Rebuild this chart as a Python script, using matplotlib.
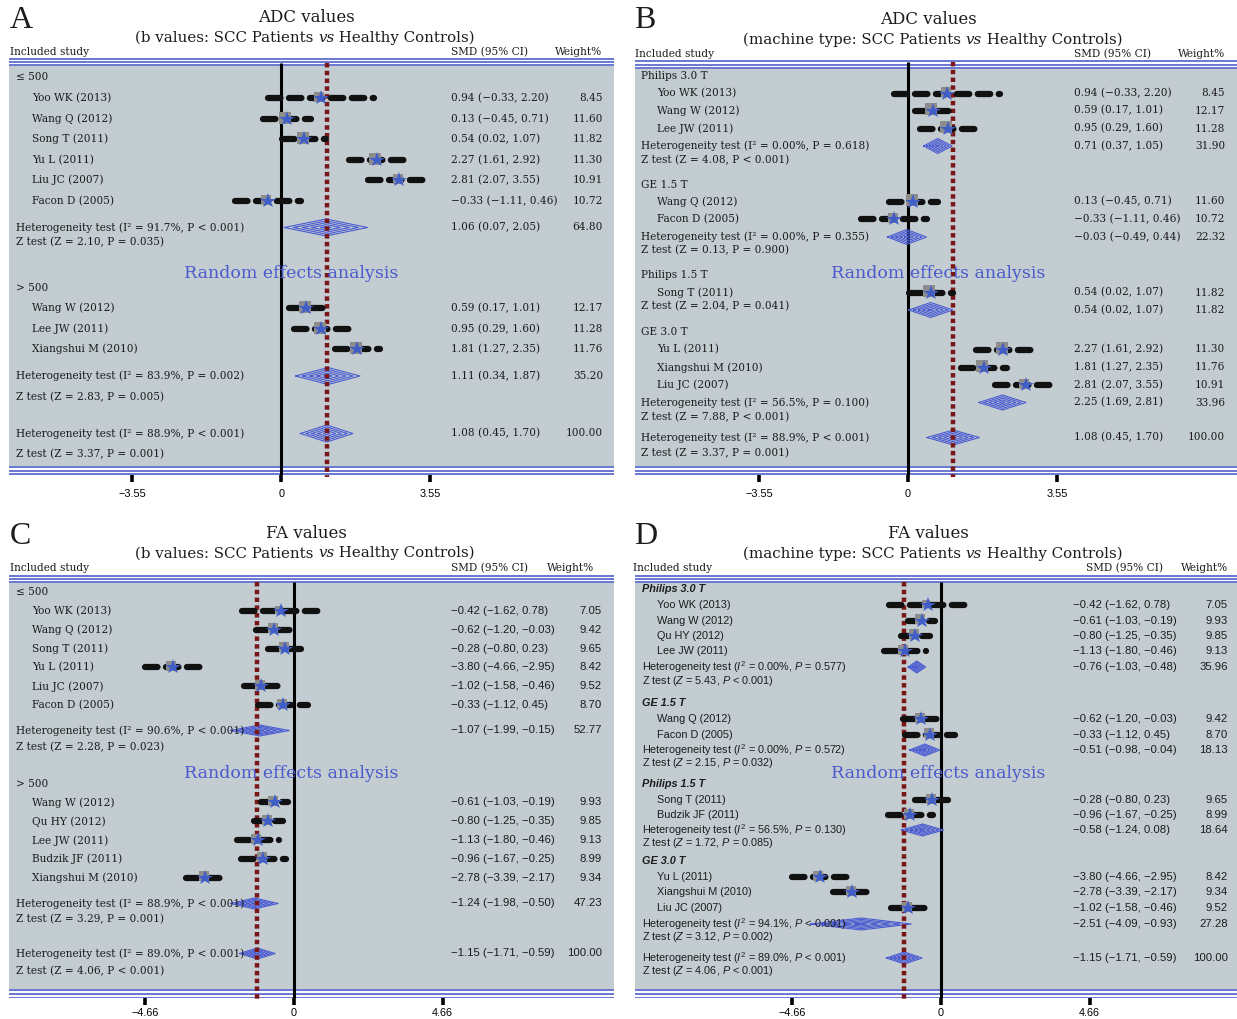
"""
Four-panel forest plot: ADC and FA SMDs, SCC patients vs healthy controls,
split by b value (A, C) and by machine type (B, D).
"""
import matplotlib

matplotlib.use("Agg")
import matplotlib.pyplot as plt
import matplotlib.transforms as mtransforms

W, H = 1237, 1019

# ---------------------------------------------------------------- study data
ADC_NAMES = ["Yoo WK (2013)", "Wang Q (2012)", "Song T (2011)", "Yu L (2011)",
             "Liu JC (2007)", "Facon D (2005)", "Wang W (2012)", "Lee JW (2011)",
             "Xiangshui M (2010)"]
ADC_SMD = [0.94, 0.13, 0.54, 2.27, 2.81, -0.33, 0.59, 0.95, 1.81]
ADC_LO = [-0.33, -0.45, 0.02, 1.61, 2.07, -1.11, 0.17, 0.29, 1.27]
ADC_HI = [2.20, 0.71, 1.07, 2.92, 3.55, 0.46, 1.01, 1.60, 2.35]
ADC_WT = [8.45, 11.60, 11.82, 11.30, 10.91, 10.72, 12.17, 11.28, 11.76]

FA_NAMES = ["Yoo WK (2013)", "Wang Q (2012)", "Song T (2011)", "Yu L (2011)",
            "Liu JC (2007)", "Facon D (2005)", "Wang W (2012)", "Qu HY (2012)",
            "Lee JW (2011)", "Budzik JF (2011)", "Xiangshui M (2010)"]
FA_SMD = [-0.42, -0.62, -0.28, -3.80, -1.02, -0.33, -0.61, -0.80, -1.13, -0.96, -2.78]
FA_LO = [-1.62, -1.20, -0.80, -4.66, -1.58, -1.12, -1.03, -1.25, -1.80, -1.67, -3.39]
FA_HI = [0.78, -0.03, 0.23, -2.95, -0.46, 0.45, -0.19, -0.35, -0.46, -0.25, -2.17]
FA_WT = [7.05, 9.42, 9.65, 8.42, 9.52, 8.70, 9.93, 9.85, 9.13, 8.99, 9.34]

# pooled: (SMD, lo, hi, weight%)
ADC_ALL = (1.08, 0.45, 1.70, 100.00)
ADC_ALL_I2 = ("88.9%", "< 0.001")
ADC_ALL_Z = ("3.37", "= 0.001")
FA_ALL = (-1.15, -1.71, -0.59, 100.00)
FA_ALL_I2 = ("89.0%", "< 0.001")
FA_ALL_Z = ("4.06", "< 0.001")

# ---------------------------------------------------------------- subgroups
A_GROUPS = ["\u2264 500", "> 500"]
A_MEMBERS = [["Yoo WK (2013)", "Wang Q (2012)", "Song T (2011)", "Yu L (2011)",
              "Liu JC (2007)", "Facon D (2005)"],
             ["Wang W (2012)", "Lee JW (2011)", "Xiangshui M (2010)"]]
A_POOLED = [(1.06, 0.07, 2.05, 64.80), (1.11, 0.34, 1.87, 35.20)]
A_I2 = [("91.7%", "< 0.001"), ("83.9%", "= 0.002")]
A_Z = [("2.10", "= 0.035"), ("2.83", "= 0.005")]

B_GROUPS = ["Philips 3.0 T", "GE 1.5 T", "Philips 1.5 T", "GE 3.0 T"]
B_MEMBERS = [["Yoo WK (2013)", "Wang W (2012)", "Lee JW (2011)"],
             ["Wang Q (2012)", "Facon D (2005)"],
             ["Song T (2011)"],
             ["Yu L (2011)", "Xiangshui M (2010)", "Liu JC (2007)"]]
B_POOLED = [(0.71, 0.37, 1.05, 31.90), (-0.03, -0.49, 0.44, 22.32),
            (0.54, 0.02, 1.07, 11.82), (2.25, 1.69, 2.81, 33.96)]
B_I2 = [("0.00%", "= 0.618"), ("0.00%", "= 0.355"), None, ("56.5%", "= 0.100")]
B_Z = [("4.08", "< 0.001"), ("0.13", "= 0.900"), ("2.04", "= 0.041"), ("7.88", "< 0.001")]

C_GROUPS = ["\u2264 500", "> 500"]
C_MEMBERS = [["Yoo WK (2013)", "Wang Q (2012)", "Song T (2011)", "Yu L (2011)",
              "Liu JC (2007)", "Facon D (2005)"],
             ["Wang W (2012)", "Qu HY (2012)", "Lee JW (2011)", "Budzik JF (2011)",
              "Xiangshui M (2010)"]]
C_POOLED = [(-1.07, -1.99, -0.15, 52.77), (-1.24, -1.98, -0.50, 47.23)]
C_I2 = [("90.6%", "< 0.001"), ("88.9%", "< 0.001")]
C_Z = [("2.28", "= 0.023"), ("3.29", "= 0.001")]

D_GROUPS = ["Philips 3.0 T", "GE 1.5 T", "Philips 1.5 T", "GE 3.0 T"]
D_MEMBERS = [["Yoo WK (2013)", "Wang W (2012)", "Qu HY (2012)", "Lee JW (2011)"],
             ["Wang Q (2012)", "Facon D (2005)"],
             ["Song T (2011)", "Budzik JF (2011)"],
             ["Yu L (2011)", "Xiangshui M (2010)", "Liu JC (2007)"]]
D_POOLED = [(-0.76, -1.03, -0.48, 35.96), (-0.51, -0.98, -0.04, 18.13),
            (-0.58, -1.24, 0.08, 18.64), (-2.51, -4.09, -0.93, 27.28)]
D_I2 = [("0.00%", "= 0.577"), ("0.00%", "= 0.572"), ("56.5%", "= 0.130"), ("94.1%", "< 0.001")]
D_Z = [("5.43", "< 0.001"), ("2.15", "= 0.032"), ("1.72", "= 0.085"), ("3.12", "= 0.002")]

# ---------------------------------------------------------------- style
GREY = "#c3ccd1"
BLUE = "#4152c6"
RED = "#7a1616"
STAR = "#3f5ec8"
BOXC = "#8c8c8c"
DIAM = "#4a5bd2"
TXT = "#1c1c1c"
SERIF = "DejaVu Serif"
SANS = "Liberation Sans"

plt.rcParams["mathtext.fontset"] = "custom"
plt.rcParams["mathtext.rm"] = "Liberation Sans"
plt.rcParams["mathtext.it"] = "Liberation Sans:italic"

# pixel layout of each panel (figure pixel rows / columns)
LAYOUT = {
    "A": dict(box=(9, 614), top=0, axis=475, zero=281.5, ppu=149 / 3.55,
              ticks=[-3.55, 0, 3.55], lines_top=(58.5, 61.5, 64.5),
              lines_bot=(467, 470.7, 474.3), grey=(65.5, 466), vtop=63, red_end=477,
              tick_pad=5, letter=(10, 21), title=(306, 18), sub=(135, 38), head_y=52,
              head_x=(10, 451, 602), cols=(16, 32, 451, 603), random=(291, 273), dh=17,
              rows=[(77, [98, 119, 139, 160, 180, 201], 227.5, 227.5, 242),
                    (288, [308, 329, 349], 376, 376, 397)],
              overall=(433.5, 454)),
    "B": dict(box=(635, 1237), top=0, axis=475, zero=908, ppu=149 / 3.55,
              ticks=[-3.55, 0, 3.55], lines_top=(61, 64.5, 68),
              lines_bot=(467, 470.7, 474.3), grey=(69, 466), vtop=62, red_end=477,
              tick_pad=5, letter=(634, 21), title=(928, 20), sub=(743, 40), head_y=54,
              head_x=(635, 1074, 1225), cols=(641, 657, 1074, 1225), random=(938, 273), dh=15,
              rows=[(76, [93.5, 110.5, 128.5], 146, 146, 160),
                    (184.5, [201.5, 219], 237, 237, 250.5),
                    (275, [292.5], 310, None, 306.5),
                    (332, [349.5, 367.5, 385], 402.5, 402.5, 417)],
              overall=(437.5, 453.5)),
    "C": dict(box=(9, 614), top=510, axis=998, zero=294, ppu=148.7 / 4.66,
              ticks=[-4.66, 0, 4.66], lines_top=(575.7, 579, 582.4),
              lines_bot=(990, 994, 998), grey=(583.5, 989), vtop=582, red_end=999,
              tick_pad=2, letter=(10, 537), title=(306, 533.5), sub=(135, 553.5), head_y=568,
              head_x=(10, 451, 594), cols=(16, 32, 451, 602), random=(291, 774), dh=11,
              rows=[(592, [611.5, 630, 649, 667.5, 686.5, 705.5], 730.5, 730.5, 747.5),
                    (784, [802.5, 821.5, 840.5, 859, 878], 903.5, 903.5, 919.5)],
              overall=(953.5, 971)),
    "D": dict(box=(635, 1237), top=510, axis=998, zero=941, ppu=148.7 / 4.66,
              ticks=[-4.66, 0, 4.66], lines_top=(575.7, 579, 582.4),
              lines_bot=(990, 994, 998), grey=(583.5, 989), vtop=582, red_end=999,
              tick_pad=2, letter=(634, 537), title=(928, 533.5), sub=(743, 553.5), head_y=568,
              head_x=(633, 1086, 1228), cols=(642, 657, 1073, 1228), random=(938, 774), dh=12,
              rows=[(589.5, [605.5, 621, 636, 651.5], 667, 667, 681.5),
                    (703.5, [719.5, 735], 750, 750, 763.5),
                    (784.5, [800.5, 815.5], 830, 830, 843),
                    (861.5, [877.5, 892.5, 908.5], 924, 924, 937)],
              overall=(958, 971.5)),
}

PANELS = {
    "A": dict(title="ADC values", sub=("(b values: SCC Patients ", " Healthy Controls)"),
              names=ADC_NAMES, smd=ADC_SMD, lo=ADC_LO, hi=ADC_HI, wt=ADC_WT,
              groups=A_GROUPS, members=A_MEMBERS, pooled=A_POOLED, i2=A_I2, z=A_Z,
              overall=ADC_ALL, overall_i2=ADC_ALL_I2, overall_z=ADC_ALL_Z,
              label_font=SERIF, num_font=SERIF, italic=False),
    "B": dict(title="ADC values", sub=("(machine type: SCC Patients ", " Healthy Controls)"),
              names=ADC_NAMES, smd=ADC_SMD, lo=ADC_LO, hi=ADC_HI, wt=ADC_WT,
              groups=B_GROUPS, members=B_MEMBERS, pooled=B_POOLED, i2=B_I2, z=B_Z,
              overall=ADC_ALL, overall_i2=ADC_ALL_I2, overall_z=ADC_ALL_Z,
              label_font=SERIF, num_font=SERIF, italic=False),
    "C": dict(title="FA values", sub=("(b values: SCC Patients ", " Healthy Controls)"),
              names=FA_NAMES, smd=FA_SMD, lo=FA_LO, hi=FA_HI, wt=FA_WT,
              groups=C_GROUPS, members=C_MEMBERS, pooled=C_POOLED, i2=C_I2, z=C_Z,
              overall=FA_ALL, overall_i2=FA_ALL_I2, overall_z=FA_ALL_Z,
              label_font=SERIF, num_font=SANS, italic=False),
    "D": dict(title="FA values", sub=("(machine type: SCC Patients ", " Healthy Controls)"),
              names=FA_NAMES, smd=FA_SMD, lo=FA_LO, hi=FA_HI, wt=FA_WT,
              groups=D_GROUPS, members=D_MEMBERS, pooled=D_POOLED, i2=D_I2, z=D_Z,
              overall=FA_ALL, overall_i2=FA_ALL_I2, overall_z=FA_ALL_Z,
              label_font=SANS, num_font=SANS, italic=True),
}


def fmt(v):
    return f"{v:.2f}".replace("-", "\u2212")


def ci_text(p):
    return f"{fmt(p[0])} ({fmt(p[1])}, {fmt(p[2])})"


def het_text(h, italic):
    if italic:
        return f"Heterogeneity test ($I^2$ = {h[0]}, $P$ {h[1]})"
    return f"Heterogeneity test (I\u00b2 = {h[0]}, P {h[1]})"


def z_text(z, italic):
    if italic:
        return f"Z test ($Z$ = {z[0]}, $P$ {z[1]})"
    return f"Z test (Z = {z[0]}, P {z[1]})"


fig = plt.figure(figsize=(W / 100, H / 100), dpi=100)


def diamond(ax, p, y, h):
    est, lo, hi = p[0], p[1], p[2]
    for k in (1.0, 0.78, 0.56, 0.34, 0.12):
        xs = [est + k * (lo - est), est, est + k * (hi - est), est, est + k * (lo - est)]
        ys = [y, y - k * h / 2, y, y + k * h / 2, y]
        ax.plot(xs, ys, color=DIAM, lw=0.8, zorder=3, clip_on=False)


def draw_panel(key):
    lay, sp = LAYOUT[key], PANELS[key]
    bl, br = lay["box"]
    zero, ppu = lay["zero"], lay["ppu"]
    top, bot = lay["top"], lay["axis"]
    ax = fig.add_axes([bl / W, 1 - bot / H, (br - bl) / W, (bot - top) / H])
    ax.set_xlim((bl - zero) / ppu, (br - zero) / ppu)
    ax.set_ylim(bot, top)
    ax.patch.set_alpha(0)
    for s in ax.spines.values():
        s.set_visible(False)
    ax.set_yticks([])
    ax.set_xticks(lay["ticks"], labels=["0" if t == 0 else fmt(t) for t in lay["ticks"]])
    ax.tick_params(axis="x", direction="out", length=5, width=2.6, pad=lay["tick_pad"],
                   labelsize=7.8, colors="black")
    for lab in ax.get_xticklabels():
        lab.set_family(SANS)

    def px(x):
        return (x - zero) / ppu

    # frame: grey band + triple blue rules
    ax.axhspan(lay["grey"][0], lay["grey"][1], color=GREY, lw=0, zorder=0)
    for y in lay["lines_top"] + lay["lines_bot"]:
        ax.axhline(y, color=BLUE, lw=1.1, zorder=1)

    # reference lines: null effect and overall pooled estimate
    ax.plot([0, 0], [lay["vtop"], bot], color="black", lw=2.2,
            solid_capstyle="butt", zorder=2)
    ov = sp["overall"][0]
    ax.plot([ov, ov], [lay["vtop"], lay["red_end"]], color=RED, lw=3.2,
            dashes=(1.0, 0.75), dash_capstyle="butt", zorder=4, clip_on=False)

    # titles
    lx, ly = lay["letter"]
    ax.text(px(lx), ly, key, fontsize=23, family="Liberation Serif", ha="left",
            va="center", color=TXT)
    tx, ty = lay["title"]
    ax.text(px(tx), ty, sp["title"], fontsize=12, family=SERIF, ha="center",
            va="center", color=TXT)
    sx, sy = lay["sub"]
    t1 = ax.text(px(sx), sy, sp["sub"][0], fontsize=10.8, family=SERIF, ha="left",
                 va="center", color=TXT)
    t2 = ax.annotate("vs", xy=(1, 0), xycoords=t1, va="bottom", ha="left",
                     fontsize=10.8, family=SERIF, style="italic", color=TXT)
    ax.annotate(sp["sub"][1], xy=(1, 0), xycoords=t2, va="bottom", ha="left",
                fontsize=10.8, family=SERIF, color=TXT)
    hx = lay["head_x"]
    hy = lay["head_y"]
    ax.text(px(hx[0]), hy, "Included study", fontsize=7.6, family=SERIF,
            va="center", ha="left", color=TXT)
    ax.text(px(hx[1]), hy, "SMD (95% CI)", fontsize=7.6, family=SERIF,
            va="center", ha="left", color=TXT)
    ax.text(px(hx[2]), hy, "Weight%", fontsize=7.6, family=SERIF,
            va="center", ha="right", color=TXT)

    rx, ry = lay["random"]
    ax.text(px(rx), ry, "Random effects analysis", fontsize=12.5, family=SERIF,
            color="#4b5bcc", ha="center", va="center", zorder=6)

    c0, c1, c2, c3 = lay["cols"]
    lf, nf, it = sp["label_font"], sp["num_font"], sp["italic"]
    fs_l = 7.8 if lf == SANS else 7.6
    fs_n = 8.2 if nf == SANS else 7.6
    sq_tr = mtransforms.offset_copy(ax.transData, fig=fig, x=-1.5, y=1.5, units="dots")

    for g, grp in enumerate(sp["groups"]):
        gy, sys_, sumy, hety, zy = lay["rows"][g]
        ax.text(px(c0), gy, grp, fontsize=fs_l, family=lf, va="center", ha="left",
                color=TXT, fontweight="bold" if it else "normal",
                style="italic" if it else "normal")
        for name, y in zip(sp["members"][g], sys_):
            i = sp["names"].index(name)
            ax.text(px(c1), y, name, fontsize=fs_l, family=lf, va="center",
                    ha="left", color=TXT)
            ax.plot([sp["lo"][i], sp["hi"][i]], [y, y], color="#111111", lw=4.5,
                    dashes=(2.0, 1.35), dash_capstyle="round", zorder=5)
            ms = 7.5 * (sp["wt"][i] / 10) ** 0.5
            ax.plot(sp["smd"][i], y, marker="s", ms=ms, color=BOXC, mew=0,
                    transform=sq_tr, zorder=6)
            ax.plot(sp["smd"][i], y, marker="*", ms=11.5, color=STAR, mew=0, zorder=7)
            ax.text(px(c2), y, ci_text((sp["smd"][i], sp["lo"][i], sp["hi"][i])),
                    fontsize=fs_n, family=nf, va="center", ha="left", color=TXT)
            ax.text(px(c3), y, f"{sp['wt'][i]:.2f}", fontsize=fs_n, family=nf,
                    va="center", ha="right", color=TXT)
        pooled = sp["pooled"][g]
        diamond(ax, pooled, sumy, lay["dh"])
        ax.text(px(c2), sumy, ci_text(pooled), fontsize=fs_n, family=nf,
                va="center", ha="left", color=TXT)
        ax.text(px(c3), sumy, f"{pooled[3]:.2f}", fontsize=fs_n, family=nf,
                va="center", ha="right", color=TXT)
        if sp["i2"][g] is not None:
            ax.text(px(c0), hety, het_text(sp["i2"][g], it), fontsize=fs_l, family=lf,
                    va="center", ha="left", color=TXT)
        ax.text(px(c0), zy, z_text(sp["z"][g], it), fontsize=fs_l, family=lf,
                va="center", ha="left", color=TXT)

    hy2, zy2 = lay["overall"]
    diamond(ax, sp["overall"], hy2, lay["dh"])
    ax.text(px(c0), hy2, het_text(sp["overall_i2"], it), fontsize=fs_l, family=lf,
            va="center", ha="left", color=TXT)
    ax.text(px(c0), zy2, z_text(sp["overall_z"], it), fontsize=fs_l, family=lf,
            va="center", ha="left", color=TXT)
    ax.text(px(c2), hy2, ci_text(sp["overall"]), fontsize=fs_n, family=nf,
            va="center", ha="left", color=TXT)
    ax.text(px(c3), hy2, f"{sp['overall'][3]:.2f}", fontsize=fs_n, family=nf,
            va="center", ha="right", color=TXT)


for k in "ABCD":
    draw_panel(k)

fig.savefig("out.png", dpi=100)
